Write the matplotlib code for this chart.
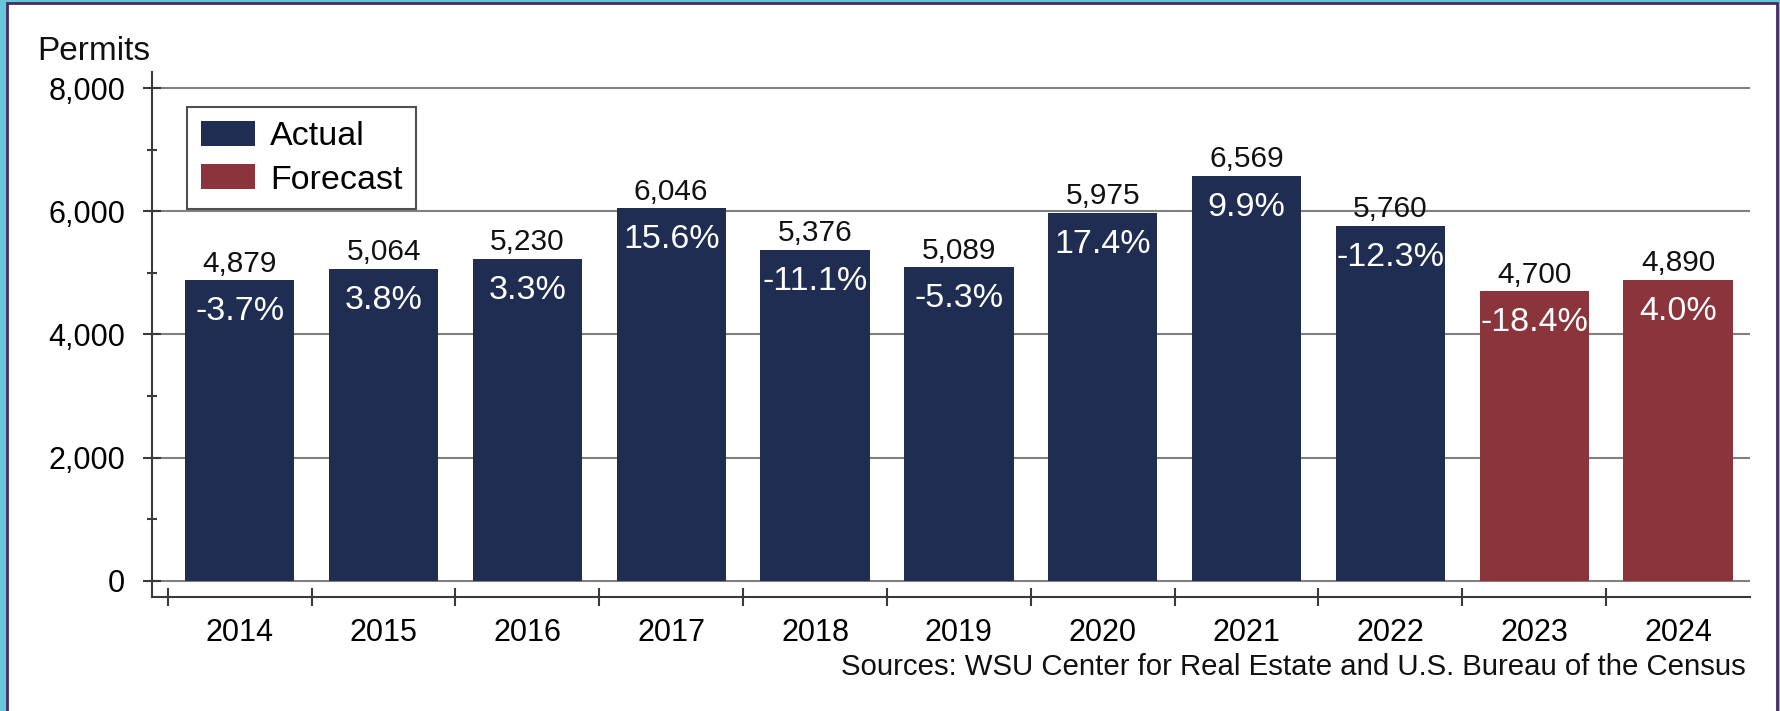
import numpy as np
import matplotlib.pyplot as plt
from matplotlib.patches import Rectangle, Patch
from matplotlib.ticker import MultipleLocator

plt.rcParams['font.family'] = ['Liberation Sans', 'DejaVu Sans']

# data
years = ['2014', '2015', '2016', '2017', '2018', '2019', '2020', '2021', '2022', '2023', '2024']
permits = [4879, 5064, 5230, 6046, 5376, 5089, 5975, 6569, 5760, 4700, 4890]
pct_change = ['-3.7%', '3.8%', '3.3%', '15.6%', '-11.1%', '-5.3%', '17.4%', '9.9%', '-12.3%', '-18.4%', '4.0%']
is_forecast = [False] * 9 + [True] * 2

navy = '#1f2d52'
red = '#8c343b'

fig = plt.figure(figsize=(17.81, 7.11), dpi=100)
fig.patch.set_facecolor('#66c6dc')
# white panel with purple frame
panel = Rectangle((7 / 1781, -0.02), (1777 - 7) / 1781, 1.02 - 3 / 711,
                  transform=fig.transFigure, facecolor='white',
                  edgecolor='#4b2a5e', lw=2, zorder=-5)
fig.patches.append(panel)

ax = fig.add_axes([152 / 1781, 1 - 597 / 711, (1750 - 152) / 1781, (597 - 72) / 711])
ax.set_facecolor('none')
ax.set_zorder(2)

x = np.arange(len(years))
colors = [red if f else navy for f in is_forecast]
bars = ax.bar(x, permits, width=0.76, color=colors, zorder=3)

ax.set_xlim(-0.61, len(years) - 0.5)
ax.set_ylim(-260, 8260)

# gridlines
for g in range(0, 8001, 2000):
    ax.axhline(g, color='#808080', lw=1.5, zorder=1)

for b, v, p in zip(bars, permits, pct_change):
    cx = b.get_x() + b.get_width() / 2
    ax.annotate(f'{v:,}', (cx, v), xytext=(0, 2), textcoords='offset points',
                ha='center', va='bottom', fontsize=21.5, color='#111111', zorder=4)
    ax.annotate(p, (cx, v), xytext=(0, -11.5), textcoords='offset points',
                ha='center', va='top', fontsize=24.5, color='white', zorder=4)

ax.spines['top'].set_visible(False)
ax.spines['right'].set_visible(False)
for s in ['left', 'bottom']:
    ax.spines[s].set_color('#3a3a3a')
    ax.spines[s].set_linewidth(1.5)

ax.set_yticks(range(0, 8001, 2000))
ax.set_yticklabels([f'{t:,}' for t in range(0, 8001, 2000)])
ax.yaxis.set_minor_locator(MultipleLocator(1000))
ax.tick_params(axis='y', which='major', direction='inout', length=13.5, width=1.5,
               color='#3a3a3a', labelsize=22, pad=12.5)
ax.tick_params(axis='y', which='minor', direction='inout', length=6.5, width=1.5,
               color='#3a3a3a')

ax.set_xticks(np.arange(len(years)) - 0.5)
ax.set_xticklabels([])
ax.set_xticks(x, minor=True)
ax.set_xticklabels(years, minor=True)
ax.tick_params(axis='x', which='major', direction='inout', length=13.5, width=1.5,
               color='#3a3a3a')
ax.tick_params(axis='x', which='minor', length=0, labelsize=22, pad=15)

fig.text(37 / 1781, 1 - 60 / 711, 'Permits', fontsize=24, ha='left',
         va='baseline', color='#111111')
fig.text(1746 / 1781, 1 - 675 / 711,
         'Sources: WSU Center for Real Estate and U.S. Bureau of the Census',
         fontsize=21.2, ha='right', va='baseline', color='#111111')

handles = [Patch(facecolor=navy, label='Actual'), Patch(facecolor=red, label='Forecast')]
leg = ax.legend(handles=handles, loc='upper left', bbox_to_anchor=(0.0219, 0.933),
                borderaxespad=0, fontsize=24.5, fancybox=False, framealpha=1,
                edgecolor='#505050', handlelength=1.6, handleheight=0.75,
                handletextpad=0.45, labelspacing=0.36, borderpad=0.4)
leg.get_frame().set_linewidth(1.5)
leg.set_zorder(5)

fig.savefig('out.png', dpi=100, facecolor=fig.get_facecolor())
